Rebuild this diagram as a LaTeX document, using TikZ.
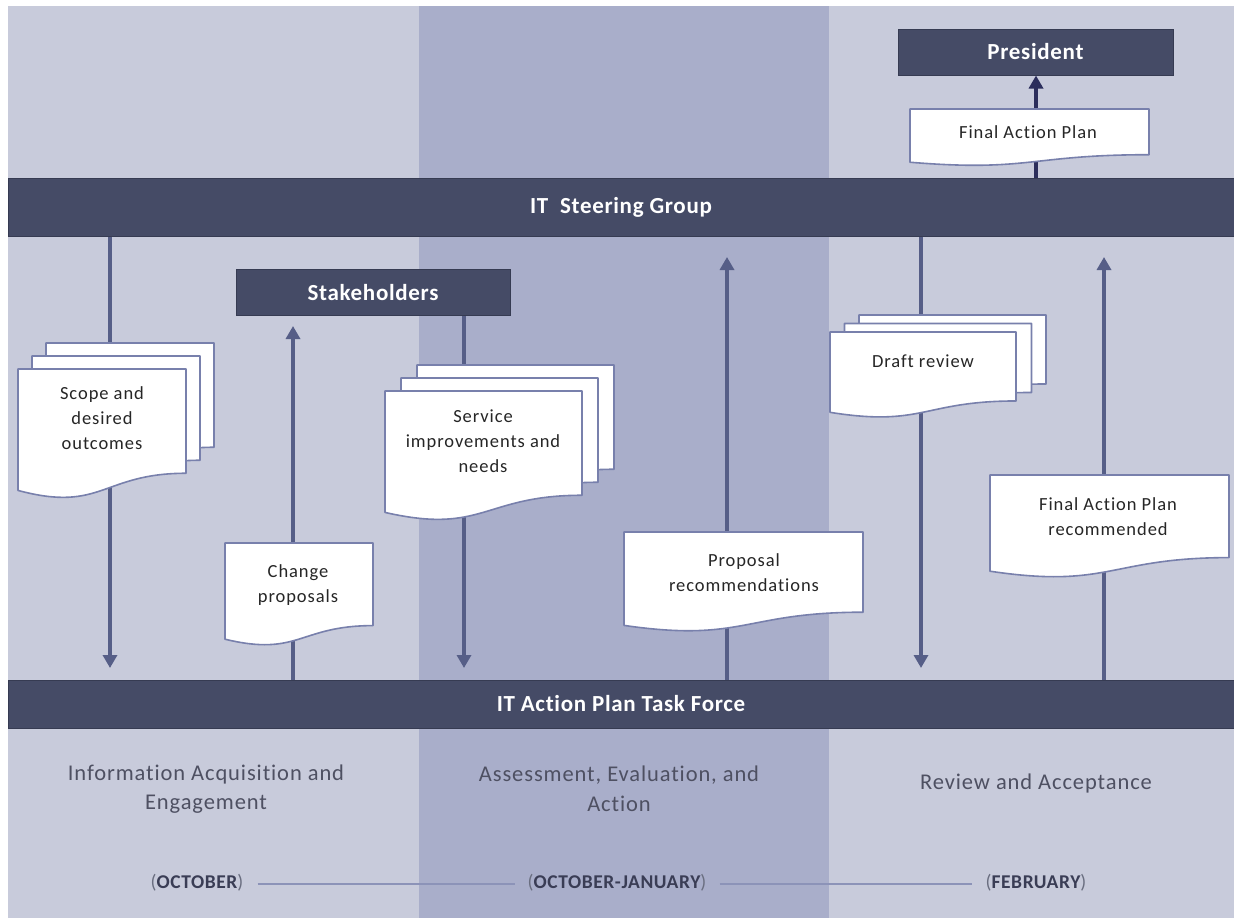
\documentclass[tikz,border=0pt]{standalone}
\usepackage{fontspec}
\setmainfont{Carlito}[Ligatures={NoCommon}]
\usetikzlibrary{arrows.meta}
\definecolor{bglight}{HTML}{C8CBDB}
\definecolor{bgmid}{HTML}{A9AECA}
\definecolor{bar}{HTML}{454B66}
\definecolor{barline}{HTML}{363B52}
\definecolor{arr}{HTML}{565E87}
\definecolor{arrdark}{HTML}{2C2E5C}
\definecolor{docline}{HTML}{7880AC}
\definecolor{phase}{HTML}{4E5062}
\definecolor{datec}{HTML}{3A3D55}
\definecolor{paren}{HTML}{6A6E80}
\definecolor{tl}{HTML}{8C93B8}
\tikzset{
  barbox/.style={fill=bar,draw=barline,line width=1pt,text=white,font=\fontsize{23}{26}\selectfont\bfseries\addfontfeature{LetterSpace=3},inner sep=0pt},
  flow/.style={draw=arr,line width=4pt,-{Triangle[width=14pt,length=13pt]}},
  docfill/.style={fill=white,draw=docline,line width=1.6pt,line join=round},
  doctext/.style={font=\fontsize{18.5}{25}\selectfont\addfontfeature{LetterSpace=5},align=center,text=black!85,inner sep=0pt},
  phasetext/.style={font=\fontsize{22.5}{29.5}\selectfont\addfontfeature{LetterSpace=4},align=center,text=phase,inner sep=0pt},
  datetext/.style={font=\fontsize{19.5}{22}\selectfont\bfseries\addfontfeature{LetterSpace=3},text=datec,inner sep=0pt},
  tline/.style={draw=tl,line width=1.2pt}
}
\newcommand\prn[1]{{\mdseries\color{paren}#1}}
\newcommand\docshp[4]{%
 \pgfmathsetmacro\xa{#1}\pgfmathsetmacro\ya{#2}%
 \pgfmathsetmacro\xb{#1+#3}\pgfmathsetmacro\xm{#1+0.5*#3}%
 \pgfmathsetmacro\yr{#2+0.802*#4}\pgfmathsetmacro\yc{#2+1.1075*#4}\pgfmathsetmacro\yl{#2+0.934*#4}%
 \path[docfill] (\xa,\ya) -- (\xb,\ya) -- (\xb,\yr) .. controls (\xm,\yr) and (\xm,\yc) .. (\xa,\yl) -- cycle;}
\begin{document}
\begin{tikzpicture}[x=1pt,y=-1pt]
\useasboundingbox (0,0) rectangle (1234,918);
\fill[white] (0,0) rectangle (1234,918);
% columns
\fill[bglight] (8,6) rectangle (419,918);
\fill[bgmid] (419,6) rectangle (829,918);
\fill[bglight] (829,6) rectangle (1234,918);
% bars
\node[barbox,minimum width=1226pt,minimum height=58pt] (steer) at (621,207) {IT\ \ Steering Group};
\node[barbox,minimum width=1226pt,minimum height=48pt] (task) at (621,704) {IT Action Plan Task Force};
\node[barbox,minimum width=274pt,minimum height=46pt] (stake) at (373,292.5) {Stakeholders};
\node[barbox,minimum width=275pt,minimum height=46pt] (pres) at (1035.5,52) {President};
% arrow anchor coordinates
\coordinate (a1) at (110,668);
\coordinate (a2) at (293,326);
\coordinate (a3) at (464,668);
\coordinate (a4) at (727,257);
\coordinate (a5) at (921,668);
\coordinate (a6) at (1104,257);
\coordinate (a7) at (1036,178);
% arrows
\draw[flow] (steer.south -| a1) -- (a1);
\draw[flow] (task.north -| a2) -- (a2);
\draw[flow] (stake.south -| a3) -- (a3);
\draw[flow] (task.north -| a4) -- (a4);
\draw[flow] (steer.south -| a5) -- (a5);
\draw[flow] (task.north -| a6) -- (a6);
\draw[flow,draw=arrdark] (a7) -- (pres.south -| a7);
% documents
\docshp{46}{343}{168}{130}\docshp{32}{356}{168}{130}\docshp{18}{369}{168}{130}
\node[doctext] (scope) at (102,418) {Scope and\\desired\\outcomes};
\docshp{225}{543}{148}{103}
\node[doctext] (change) at (298,585) {Change\\proposals};
\docshp{417}{365}{197}{130}\docshp{401}{378}{197}{130}\docshp{385}{391}{197}{130}
\node[doctext] (service) at (483,441) {Service\\improvements and\\needs};
\docshp{624}{532}{239}{100}
\node[doctext] (prop) at (744,573) {Proposal\\recommendations};
\docshp{859}{315}{187}{86}\docshp{844.5}{323.5}{187}{86}\docshp{830}{332}{186}{86}
\node[doctext] (draft) at (923,361) {Draft review};
\docshp{990}{475}{239}{103}
\node[doctext] (finrec) at (1108,517) {Final Action Plan\\recommended};
\docshp{910}{109}{239}{57}
\node[doctext] (fin) at (1028,132) {Final Action Plan};
% phases
\node[phasetext] (ph1) at (206,789) {Information Acquisition and\\Engagement};
\node[phasetext] (ph2) at (619,789) {Assessment, Evaluation, and\\Action};
\node[phasetext] (ph3) at (1036,783) {Review and Acceptance};
% dates
\node[datetext] (d1) at (197,883) {\prn{(}OCTOBER\prn{)}};
\node[datetext] (d2) at (617,883) {\prn{(}OCTOBER-JANUARY\prn{)}};
\node[datetext] (d3) at (1036,883) {\prn{(}FEBRUARY\prn{)}};
\draw[tline] ([xshift=14pt]d1.east |- 0,884) -- ([xshift=-12pt]d2.west |- 0,884);
\draw[tline] ([xshift=13pt]d2.east |- 0,884) -- ([xshift=-14pt]d3.west |- 0,884);
\end{tikzpicture}
\end{document}
